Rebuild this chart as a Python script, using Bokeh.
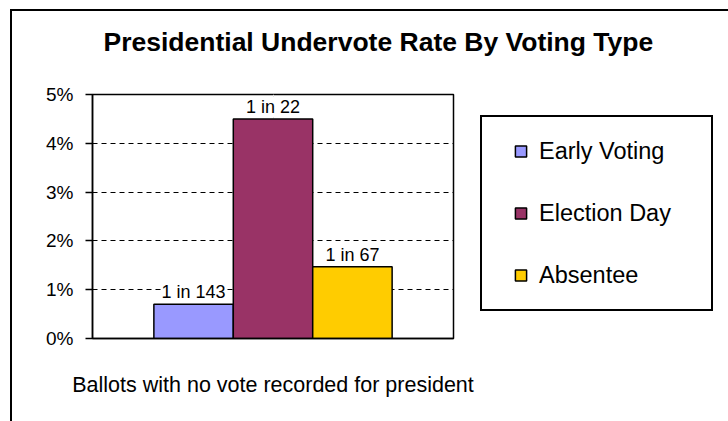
from bokeh.plotting import figure
from bokeh.layouts import column, row
from bokeh.models import (FactorRange, Range1d, CategoricalAxis, FixedTicker,
                          NumeralTickFormatter, Legend, LegendItem, ColumnDataSource, Label)
from bokeh.transform import dodge
from bokeh.core.properties import value
from bokeh.embed import file_html
from bokeh.resources import INLINE

# ---- data ----
categories = ["Ballots with no vote recorded for president"]
series = ["Early Voting", "Election Day", "Absentee"]
rates = [0.0070, 0.0450, 0.0147]
bar_labels = ["1 in 143", "1 in 22", "1 in 67"]
y_ticks = [0.0, 0.01, 0.02, 0.03, 0.04, 0.05]
title_text = "Presidential Undervote Rate By Voting Type"

# ---- styles ----
colors = ["#9999FF", "#993366", "#FFCC00"]
offsets = [-0.22, 0.0, 0.22]
bar_w = 0.22
SANS = "Liberation Sans"


def bare(width, height, x_range, y_range):
    f = figure(width=width, height=height, x_range=x_range, y_range=y_range,
               output_backend="svg", toolbar_location=None,
               x_axis_location=None, y_axis_location=None, min_border=0)
    f.outline_line_color = None
    f.background_fill_color = "white"
    f.border_fill_color = "white"
    f.grid.visible = False
    return f


# ---- title strip ----
pt = bare(716, 50, Range1d(0, 1), Range1d(0, 1))
pt.add_layout(Label(x=91, y=20, x_units="screen", y_units="screen", text=title_text,
                    text_font=SANS, text_font_style="bold", text_font_size="26.5px",
                    text_baseline="alphabetic", text_color="black"))

# ---- chart ----
p = figure(width=466, height=360,
           x_range=FactorRange(factors=categories, range_padding=0),
           y_range=Range1d(0, 0.05),
           output_backend="svg", toolbar_location=None,
           x_axis_location=None,
           min_border_left=80, min_border_right=25,
           min_border_top=33, min_border_bottom=83)
p.background_fill_color = "white"
p.border_fill_color = "white"
p.outline_line_color = "black"
p.outline_line_width = 1.5

p.yaxis.ticker = FixedTicker(ticks=y_ticks)
p.yaxis.formatter = NumeralTickFormatter(format="0%")
p.yaxis.major_tick_out = 7
p.yaxis.major_tick_in = 0
p.yaxis.minor_tick_line_color = None
p.yaxis.axis_line_width = 1.5
p.yaxis.major_tick_line_width = 1.5
p.yaxis.axis_line_color = "black"
p.yaxis.major_tick_line_color = "black"
p.yaxis.major_label_standoff = 12
p.yaxis.major_label_text_font = SANS
p.yaxis.major_label_text_font_size = "19px"
p.yaxis.major_label_text_color = "black"

p.ygrid.ticker = FixedTicker(ticks=y_ticks)
p.ygrid.grid_line_color = "black"
p.ygrid.grid_line_dash = "5 4"
p.ygrid.grid_line_width = 1

cat_axis = CategoricalAxis(axis_line_color="black", axis_line_width=1.5,
                           major_tick_line_color=None, major_tick_out=0, major_tick_in=0,
                           minor_tick_line_color=None, major_label_standoff=34,
                           major_label_text_font=SANS,
                           major_label_text_font_size="21.5px",
                           major_label_text_color="black")
p.add_layout(cat_axis, "below")

for i in range(len(series)):
    src = ColumnDataSource(dict(cat=[categories[0]], rate=[rates[i]], lab=[bar_labels[i]]))
    xpos = dodge("cat", offsets[i], range=p.x_range)
    p.vbar(x=xpos, top="rate", bottom=0, width=bar_w, source=src,
           fill_color=colors[i], line_color="black", line_width=1.5)
    p.text(x=xpos, y="rate", text="lab", source=src,
           text_font=value(SANS), text_font_size="18px", text_color="black",
           text_align="center", text_baseline="bottom", y_offset=-2,
           background_fill_color="white")

# ---- legend panel ----
pl = bare(250, 360, FactorRange(factors=series), Range1d(0, 0.05))
swatches = []
for i in range(len(series)):
    s = ColumnDataSource(dict(name=[series[i]], rate=[rates[i]]))
    # zero-size squares: only their legend swatches are visible
    swatches.append(pl.scatter(x="name", y="rate", source=s, size=0, marker="square",
                               fill_color=colors[i], line_color="black", line_width=1.5))
legend = Legend(items=[LegendItem(label=series[i], renderers=[swatches[i]])
                       for i in range(len(series))],
                location=(2, 27), orientation="vertical", padding=20, spacing=34,
                label_height=20, glyph_width=37, glyph_height=28, label_standoff=0,
                label_width=152, margin=0,
                border_line_color="black", border_line_width=2, border_line_alpha=1,
                background_fill_color="white", background_fill_alpha=1,
                label_text_font=SANS, label_text_font_size="23.5px",
                label_text_color="black")
pl.add_layout(legend, "center")

# outer chart frame (left and top edges visible in the window)
page = column(pt, row(p, pl),
              styles={"margin-left": "10px", "margin-top": "9px",
                      "border-left": "2px solid black",
                      "border-top": "2px solid black"})

open("out.html", "w").write(file_html(page, INLINE))
